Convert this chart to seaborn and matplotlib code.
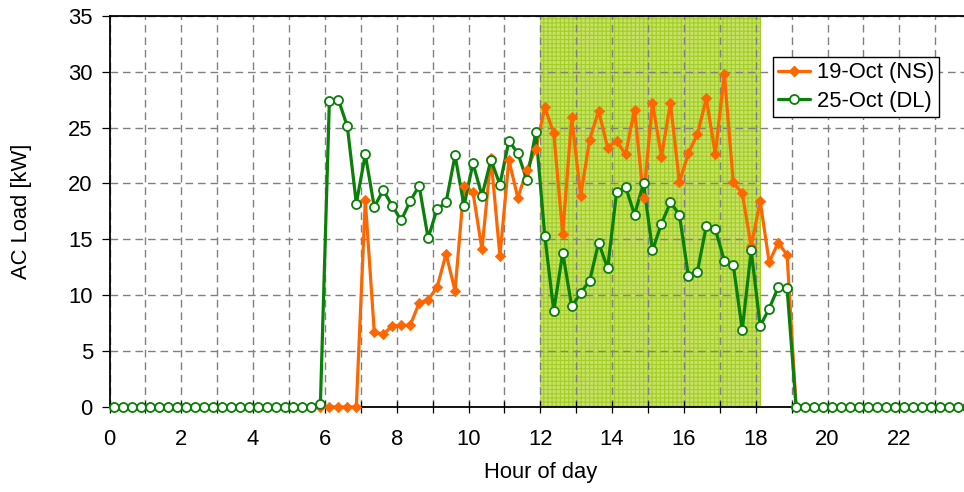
import numpy as np
import seaborn as sns
import matplotlib.pyplot as plt
from matplotlib.lines import Line2D
from matplotlib.ticker import MultipleLocator

# 15-minute intervals, plotted at the middle of each interval
hours = np.arange(96) * 0.25 + 0.125

# 19-Oct, normal schedule (NS)
ns_load = [0.0] * 28 + [
    18.5, 6.7, 6.5, 7.25, 7.3, 7.3, 9.3, 9.6, 10.7, 13.7, 10.4, 19.8,
    19.2, 14.1, 22.3, 13.5, 22.1, 18.7, 21.2, 23.1,
    26.8, 24.5, 15.5, 25.9, 18.9, 23.9, 26.5, 23.2,
    23.8, 22.6, 26.6, 18.7, 27.2, 22.4, 27.2, 20.1,
    22.7, 24.4, 27.6, 22.6, 29.8, 20.1, 19.1, 14.4,
    18.4, 12.95, 14.7, 13.6,
] + [0.0] * 20

# 25-Oct, demand limiting (DL)
dl_load = [0.0] * 23 + [0.3] + [
    27.4, 27.5, 25.1, 18.2, 22.6, 17.9, 19.4, 18.0, 16.7, 18.4, 19.8, 15.1,
    17.7, 18.3, 22.5, 18.0,
    21.8, 18.9, 22.1, 19.9, 23.8, 22.7, 20.3, 24.6,
    15.3, 8.6, 13.8, 9.0, 10.2, 11.3, 14.7, 12.4,
    19.2, 19.7, 17.2, 20.0, 14.0, 16.4, 18.3, 17.2,
    11.7, 12.1, 16.2, 15.9, 13.1, 12.7, 6.9, 14.0,
    7.25, 8.8, 10.7, 10.6,
] + [0.0] * 20

series_labels = ["19-Oct (NS)", "25-Oct (DL)"]
x_ticks = list(range(0, 24, 2))
y_ticks = list(range(0, 36, 5))
shade_span = (12.0, 18.14)

ORANGE = "#FF6600"
GREEN = "#0A800A"
FS = 15.8

sns.set_style("white")
plt.rcParams["font.family"] = ["Liberation Sans", "DejaVu Sans"]
plt.rcParams["hatch.linewidth"] = 0.8
for key in ("text.color", "axes.labelcolor", "xtick.color", "ytick.color"):
    plt.rcParams[key] = "black"

fig = plt.figure(figsize=(9.64, 4.92), dpi=100)
ax = fig.add_axes([109.5 / 964, 85 / 492, 861.6 / 964, 391.3 / 492])

# shaded demand-limiting window
ax.axvspan(*shade_span, facecolor="#C7E266", edgecolor="#A3CE28",
           hatch="++++", lw=0, zorder=0.2)

# lines first, markers on top
sns.lineplot(x=hours, y=ns_load, color=ORANGE, lw=2.3, ax=ax, zorder=2,
             legend=False)
sns.lineplot(x=hours, y=dl_load, color=GREEN, lw=2.3, ax=ax, zorder=2.1,
             legend=False)
sns.scatterplot(x=hours, y=ns_load, marker="D", s=28, color=ORANGE,
                edgecolor=ORANGE, linewidth=0.5, ax=ax, zorder=3,
                clip_on=False, legend=False)
sns.scatterplot(x=hours, y=dl_load, marker="o", s=42, facecolor="white",
                edgecolor=GREEN, linewidth=1.3, ax=ax, zorder=4,
                clip_on=False, legend=False)

ax.set_xlim(0, 24)
ax.set_ylim(0, 35)
ax.set_xticks(x_ticks)
ax.set_xticklabels([str(t) for t in x_ticks])
ax.xaxis.set_minor_locator(MultipleLocator(1))
ax.set_yticks(y_ticks)

grid_kw = dict(color="#808080", linestyle=(0, (5.5, 3.5)), linewidth=1.0)
ax.grid(True, which="both", axis="x", **grid_kw)
ax.grid(True, which="major", axis="y", **grid_kw)
ax.set_axisbelow(True)

for side in ("left", "bottom", "top"):
    ax.spines[side].set_visible(True)
    ax.spines[side].set_color("black")
    ax.spines[side].set_linewidth(1.3)
ax.spines["right"].set_visible(False)

ax.tick_params(axis="x", which="both", direction="inout", length=9,
               width=0.9, color="black", bottom=True, pad=11,
               labelsize=FS, labelcolor="black")
ax.tick_params(axis="y", direction="out", length=6, width=0.9,
               color="black", left=True, pad=6, labelsize=FS,
               labelcolor="black")

ax.set_xlabel("Hour of day", fontsize=FS, labelpad=9, color="black")
ax.set_ylabel("AC Load [kW]", fontsize=FS, color="black")
ax.yaxis.set_label_coords(-0.09, 0.5)

handles = [
    Line2D([], [], color=ORANGE, lw=2.3, marker="D", ms=5.3, mfc=ORANGE,
           mec=ORANGE),
    Line2D([], [], color=GREEN, lw=2.3, marker="o", ms=6.5, mfc="white",
           mec=GREEN, mew=1.3),
]
leg = ax.legend(handles, series_labels, loc="upper left",
                bbox_to_anchor=(0.7697, 0.895), borderaxespad=0,
                fontsize=FS, frameon=True, fancybox=False, framealpha=1,
                edgecolor="black", handlelength=1.45, handletextpad=0.3,
                labelspacing=0.35, borderpad=0.25)
leg.get_frame().set_linewidth(1.0)
for txt in leg.get_texts():
    txt.set_color("black")

fig.savefig("out.png", dpi=100)
